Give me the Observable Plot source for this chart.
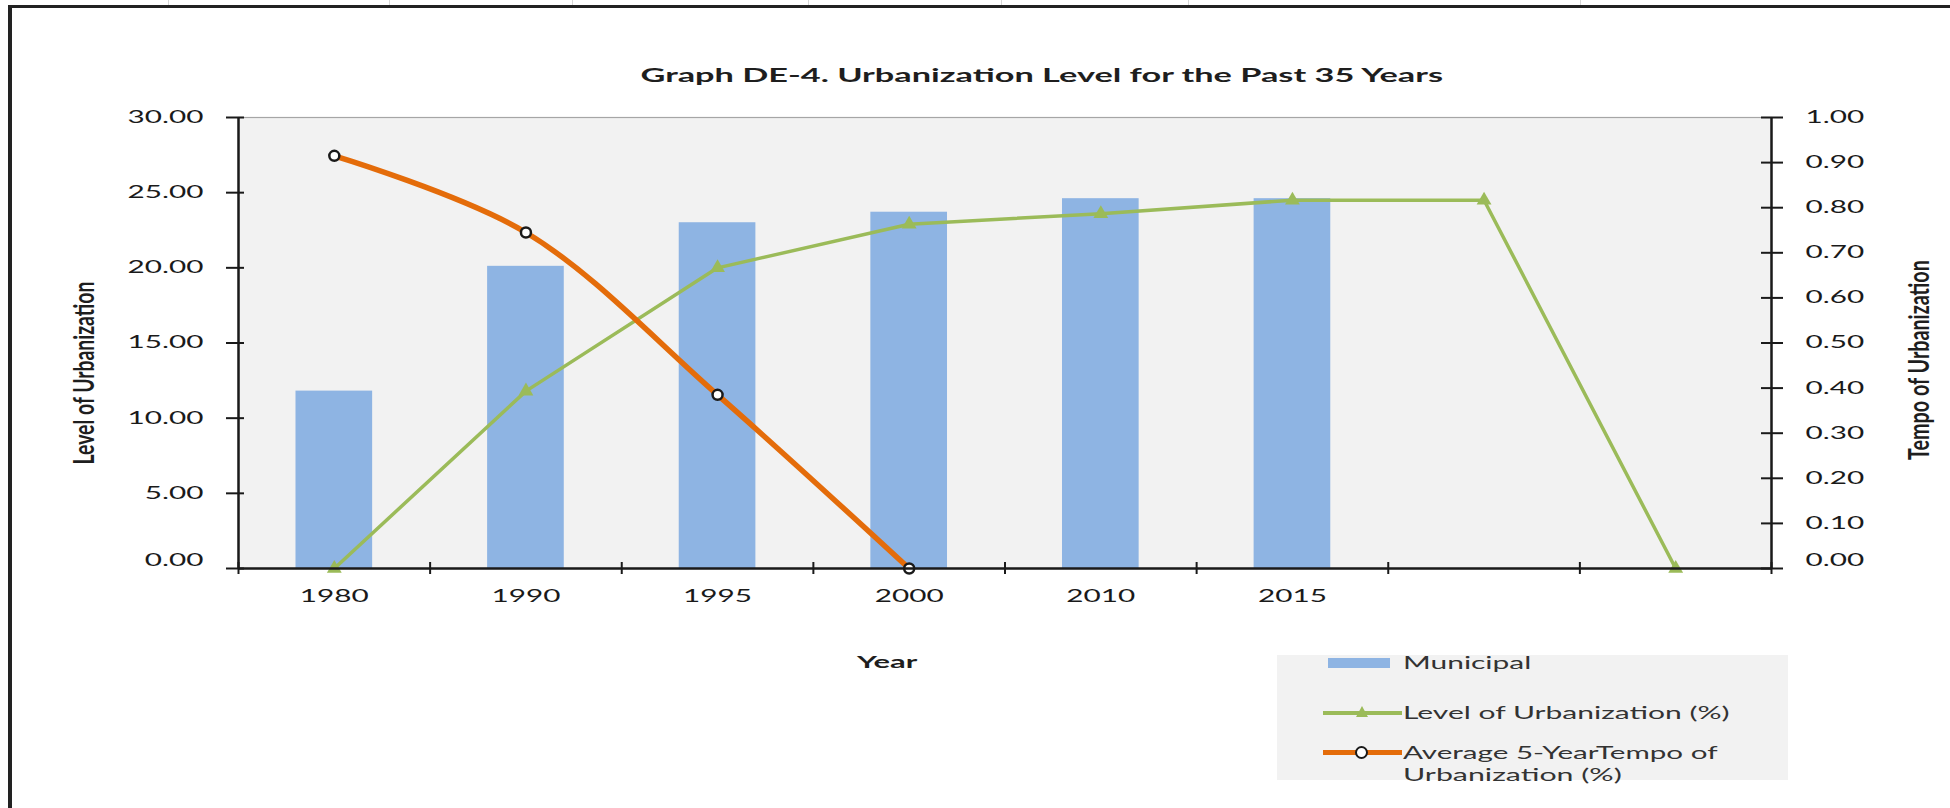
<!DOCTYPE html>
<html>
<head>
<meta charset="utf-8">
<script src="https://cdn.jsdelivr.net/npm/d3@7"></script>
<script src="https://cdn.jsdelivr.net/npm/@observablehq/plot@0.6"></script>
<style>
  html, body { margin: 0; padding: 0; background: #ffffff; overflow: hidden; }
  #wrap { position: relative; width: 1950px; height: 808px; overflow: hidden; background: #ffffff;
          font-family: Lato, "Open Sans", sans-serif; color: #1e1e1e; }
  #titlebar { position: relative; height: 90px; }
  #chart { position: relative; height: 563px; }
  #chart svg { display: block; }
  .lbl { position: absolute; left: 0; top: 0; white-space: nowrap; display: inline-block;
         transform-origin: 0 0; line-height: 1.2; }
  .deco { position: absolute; }
</style>
</head>
<body>
<div id="wrap">
  <div id="titlebar"></div>
  <div id="chart"></div>
</div>
<script>
// ---------------- data ----------------
const categories = ["1980", "1990", "1995", "2000", "2010", "2015", "", ""];
const municipal = [11.8, 20.1, 23.0, 23.7, 24.6, 24.6];
const levelOfUrbanization = [0, 11.8, 20.0, 22.9, 23.6, 24.5, 24.5, 0];
const tempoOfUrbanization = [0.915, 0.745, 0.385, 0.0];
const leftTicks = [0, 5, 10, 15, 20, 25, 30];
const rightTicks = [0, 0.1, 0.2, 0.3, 0.4, 0.5, 0.6, 0.7, 0.8, 0.9, 1.0];
const leftMax = 30;
const rightMax = 1;
const titleText = "Graph DE-4. Urbanization Level for the Past 35 Years";
const xTitle = "Year";
const yLeftTitle = "Level of Urbanization";
const yRightTitle = "Tempo of Urbanization";
const legendLabels = ["Municipal", "Level of Urbanization (%)", "Average 5-YearTempo of", "Urbanization (%)"];

// ---------------- tables built from the arrays ----------------
const barData = municipal.map((v, i) => ({i, v}));
const levelData = levelOfUrbanization.map((v, i) => ({i, v}));
const tempoData = tempoOfUrbanization.map((v, i) => ({i, v}));
const toLeft = (t) => t * leftMax / rightMax;

const colBar = "#8EB4E3", colGreen = "#9BBB59", colOrange = "#E46C0A", ink = "#1a1a1a";

const plot = Plot.plot({
  width: 1950,
  height: 563,
  marginTop: 27,
  marginBottom: 85,
  marginLeft: 238,
  marginRight: 179,
  x: {type: "linear", domain: [0, categories.length], axis: null},
  y: {domain: [0, leftMax], axis: null},
  style: {fontFamily: "Lato, 'Open Sans', sans-serif", fontSize: "17px", color: ink, background: "transparent", overflow: "visible"},
  marks: [
    Plot.frame({fill: "#f2f2f2", stroke: "#a6a6a6", strokeWidth: 1.2}),
    Plot.rect(barData, {x1: d => d.i + 0.3, x2: d => d.i + 0.7, y1: 0, y2: "v", fill: colBar}),
    Plot.line(levelData, {x: d => d.i + 0.5, y: "v", stroke: colGreen, strokeWidth: 3.5}),
    Plot.dot(levelData, {x: d => d.i + 0.5, y: "v", symbol: "triangle", r: 5.5, fill: colGreen, stroke: null}),
    Plot.line(tempoData, {x: d => d.i + 0.5, y: d => toLeft(d.v), stroke: colOrange, strokeWidth: 5.5, curve: "catmull-rom"}),
    Plot.dot(tempoData, {x: d => d.i + 0.5, y: d => toLeft(d.v), r: 5, fill: "white", stroke: ink, strokeWidth: 2.5}),
    Plot.ruleX([0, categories.length], {stroke: ink, strokeWidth: 2.5}),
    Plot.ruleY([0], {stroke: ink, strokeWidth: 2.5}),
    Plot.axisY(leftTicks, {anchor: "left", tickSize: 18, dx: 6, tickPadding: 23, strokeWidth: 2,
      color: ink, fontSize: 17, tickFormat: d3.format(".2f"), label: null}),
    Plot.axisY(rightTicks.map(toLeft), {anchor: "right", tickSize: 22, dx: -11, tickPadding: 23, strokeWidth: 2,
      color: ink, fontSize: 17, tickFormat: d => (d * rightMax / leftMax).toFixed(2), label: null}),
    Plot.axisX(d3.range(categories.length + 1), {anchor: "bottom", tickSize: 12, dy: -6, strokeWidth: 2,
      stroke: ink, fill: "none", tickFormat: () => "", label: null}),
    Plot.axisX(categories.map((c, i) => i + 0.5), {anchor: "bottom", tickSize: 0, tickPadding: 21,
      color: ink, fontSize: 17, tickFormat: d => categories[Math.floor(d)], label: null})
  ]
});
document.getElementById("chart").append(plot);

// horizontally stretched tick labels, as in the reference
const tickTexts = [...plot.querySelectorAll('g[aria-label$="tick label"] text')];
const refText = tickTexts.find(t => t.textContent === "30.00");
const stretch = refText ? 76 / refText.getComputedTextLength() : 1.7;
tickTexts.forEach(t => {
  let tr = t.getAttribute("transform") || "";
  if (t.textContent === "0.00") tr += " translate(0,-8)";
  t.setAttribute("transform", tr + ` scale(${stretch},1)`);
});

// ---------------- HTML text & decorations ----------------
const wrap = document.getElementById("wrap");
function deco(style) {
  const d = document.createElement("div");
  d.className = "deco";
  Object.assign(d.style, style);
  wrap.append(d);
  return d;
}
function label(text, opt) {
  const s = document.createElement("span");
  s.className = "lbl";
  s.textContent = text;
  s.style.fontSize = (opt.size || 17) + "px";
  s.style.fontWeight = opt.bold ? "700" : "400";
  if (opt.color) s.style.color = opt.color;
  wrap.append(s);
  const w0 = s.offsetWidth, h0 = s.offsetHeight;
  if (opt.rotate) {
    const sy = opt.len / w0;
    s.style.transform = `translate(${opt.cx}px, ${opt.cy}px) scale(${stretch}, ${sy}) rotate(-90deg) translate(${-w0 / 2}px, ${-h0 / 2}px)`;
  } else {
    const sx = opt.w / w0;
    const left = opt.cx !== undefined ? opt.cx - opt.w / 2 : opt.x;
    s.style.transform = `translate(${left}px, ${opt.cy - h0 / 2}px) scale(${sx}, 1)`;
  }
  return s;
}

// outer frame of the pasted chart
deco({left: "9px", top: "5px", width: "1941px", height: "2.5px", background: "#222"});
deco({left: "8px", top: "5px", width: "3.5px", height: "803px", background: "#222"});
[168, 389, 572, 808, 1001, 1188, 1580].forEach(x =>
  deco({left: x + "px", top: "0px", width: "1px", height: "5px", background: "#d6d6d6"}));

// titles
label(titleText, {cx: 1042, cy: 75, w: 803, size: 19, bold: true});
label(xTitle, {cx: 887, cy: 662, w: 60, size: 17, bold: true});
label(yLeftTitle, {rotate: true, cx: 83, cy: 373, len: 183, size: 16, bold: true});
label(yRightTitle, {rotate: true, cx: 1918, cy: 360, len: 200, size: 16, bold: true});

// legend
deco({left: "1277px", top: "655px", width: "511px", height: "125px", background: "#f2f2f2"});
deco({left: "1328px", top: "658px", width: "62px", height: "10px", background: colBar});
deco({left: "1323px", top: "711px", width: "79px", height: "3.5px", background: colGreen});
deco({left: "1356px", top: "706px", width: "0px", height: "0px", borderLeft: "6px solid transparent",
      borderRight: "6px solid transparent", borderBottom: "11px solid " + colGreen});
deco({left: "1323px", top: "749.5px", width: "79px", height: "5.5px", background: colOrange});
deco({left: "1355px", top: "746px", width: "9px", height: "9px", borderRadius: "50%", background: "#fff",
      border: "2.5px solid " + ink});
label(legendLabels[0], {x: 1403, cy: 663, w: 128, size: 18, color: "#333"});
label(legendLabels[1], {x: 1403, cy: 713, w: 327, size: 18, color: "#333"});
label(legendLabels[2], {x: 1403, cy: 753, w: 314, size: 18, color: "#333"});
label(legendLabels[3], {x: 1403, cy: 775, w: 219, size: 18, color: "#333"});
</script>
</body>
</html>
